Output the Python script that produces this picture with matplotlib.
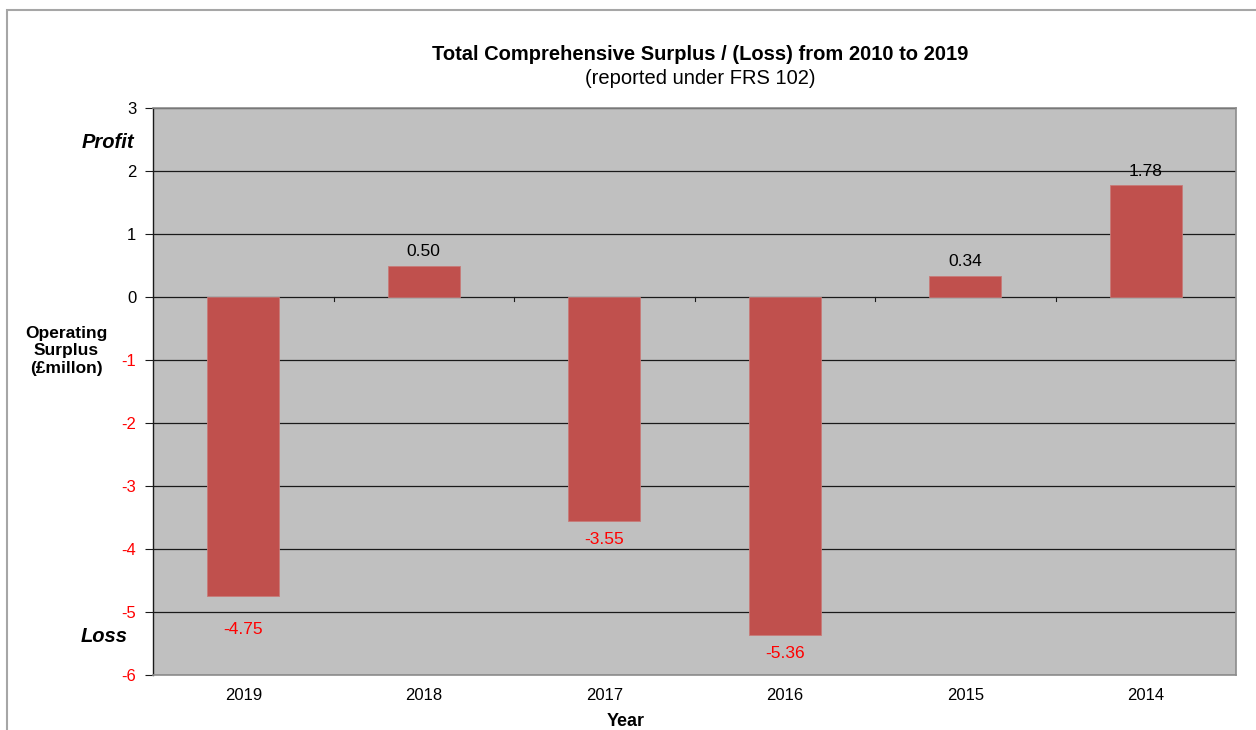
import matplotlib
matplotlib.use("Agg")
import matplotlib.pyplot as plt
from matplotlib.patches import Rectangle

years = ["2019", "2018", "2017", "2016", "2015", "2014"]
surplus = [-4.75, 0.50, -3.55, -5.36, 0.34, 1.78]
yticks = [3, 2, 1, 0, -1, -2, -3, -4, -5, -6]

W, H = 1256, 730
FONT = "Liberation Sans"
fig = plt.figure(figsize=(W / 100, H / 100), dpi=100)
fig.patch.set_facecolor("white")

# outer chart border (cut off on right/bottom like the screenshot)
fig.patches.append(Rectangle((7 / W, -0.05), 1.2, 1 - 10 / H + 0.05, transform=fig.transFigure,
                             fill=False, ec="#a6a6a6", lw=1.5))

L, R, T, B = 153, 1236, 108, 675
ax = fig.add_axes([L / W, 1 - B / H, (R - L) / W, (B - T) / H])
ax.set_facecolor("#c0c0c0")
ax.set_xlim(-0.5, len(years) - 0.5)
ax.set_ylim(-6, 3)

for y in yticks:
    ax.axhline(y, color="#1a1a1a", lw=0.9, zorder=1)

x = range(len(years))
ax.bar(x, surplus, width=0.4, color="#c0504d", edgecolor="#c87a78", lw=0.6, zorder=2)

for i, v in enumerate(surplus):
    if v >= 0:
        ax.annotate(f"{v:.2f}", (i, v), xytext=(0, 4.5), textcoords="offset points",
                    ha="center", va="bottom", fontsize=12.5, color="black", family=FONT, zorder=3)
    else:
        # the label that would sit on the -5 gridline is pushed below it
        off = -18.5 if v - 0.3 < -5 < v else -8
        ax.annotate(f"{v:.2f}", (i, v), xytext=(0, off), textcoords="offset points",
                    ha="center", va="top", fontsize=12.5, color="red", family=FONT, zorder=3)

# category boundary ticks on the zero axis
for k in range(1, len(years)):
    ax.plot([k - 0.5, k - 0.5], [0, -0.06], color="#1a1a1a", lw=0.8, zorder=1)

ax.set_xticks(list(x))
ax.set_xticklabels(years, fontsize=12, family=FONT)
ax.tick_params(axis="x", length=0, pad=9)
ax.set_yticks(yticks)
ax.set_yticklabels([str(t) for t in yticks], fontsize=12, family=FONT)
ax.tick_params(axis="y", length=6, width=0.8, direction="out", pad=6, color="#1a1a1a")
for lab, t in zip(ax.get_yticklabels(), yticks):
    lab.set_color("red" if t < 0 else "black")

for s in ["top", "right", "bottom"]:
    ax.spines[s].set_color("#8c8c8c")
    ax.spines[s].set_linewidth(1.2)
ax.spines["left"].set_color("#1a1a1a")
ax.spines["left"].set_linewidth(1.0)

fig.text(700 / W, 1 - 55 / H, "Total Comprehensive Surplus / (Loss) from 2010 to 2019",
         ha="center", va="center", fontsize=14.5, fontweight="bold", family=FONT)
fig.text(700 / W, 1 - 78 / H, "(reported under FRS 102)",
         ha="center", va="center", fontsize=14.5, family=FONT)

fig.text(134 / W, 1 - 143 / H, "Profit", ha="right", va="center", fontsize=14.5,
         fontweight="bold", fontstyle="italic", family=FONT)
fig.text(128 / W, 1 - 637 / H, "Loss", ha="right", va="center", fontsize=14.5,
         fontweight="bold", fontstyle="italic", family=FONT)
fig.text(66 / W, 1 - 351 / H, "Operating\nSurplus\n(£millon)", ha="center", va="center",
         fontsize=12.5, fontweight="bold", family=FONT, linespacing=1.18)
fig.text(626 / W, 1 - 721 / H, "Year", ha="center", va="center", fontsize=13,
         fontweight="bold", family=FONT)

fig.savefig("out.png", dpi=100, facecolor="white")
